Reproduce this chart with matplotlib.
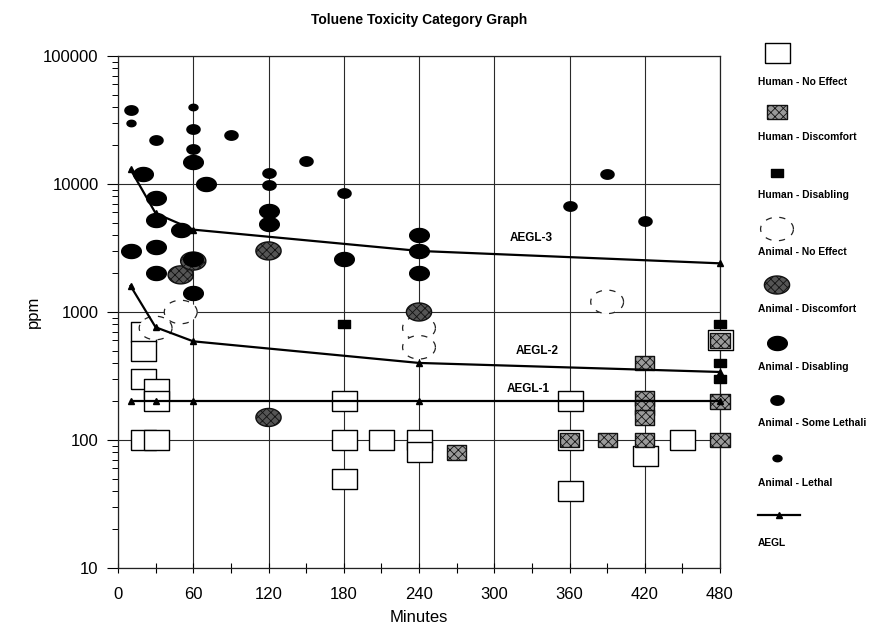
import numpy as np
import matplotlib
matplotlib.use("Agg")
import matplotlib.pyplot as plt
from matplotlib.ticker import FixedLocator, FuncFormatter, LogLocator, NullFormatter, MultipleLocator

plt.rcParams['font.family'] = ['Liberation Sans', 'DejaVu Sans']
plt.rcParams['hatch.linewidth'] = 0.6

# ---- data (minutes, ppm) ----
hum_noeff_min = [20, 20, 20, 30, 30, 20, 30, 180, 180, 180, 210, 240, 240, 360, 360, 360, 420, 450, 480]
hum_noeff_ppm = [700, 500, 300, 250, 200, 100, 100, 200, 100, 50, 100, 100, 80, 200, 100, 40, 75, 100, 600]

hum_disc_min = [270, 360, 390, 420, 420, 420, 420, 420, 480, 480, 480]
hum_disc_ppm = [80, 100, 100, 400, 210, 180, 150, 100, 200, 100, 600]

hum_disab_min = [180, 480, 480, 480]
hum_disab_ppm = [800, 800, 400, 300]

ani_noeff_min = [50, 30, 240, 240, 390]
ani_noeff_ppm = [1000, 750, 750, 530, 1200]

ani_disc_min = [50, 60, 120, 240, 120]
ani_disc_ppm = [1950, 2500, 3000, 1000, 150]

ani_disab_min = [10, 20, 30, 30, 30, 30, 50, 60, 60, 60, 70, 120, 120, 180, 240, 240, 240]
ani_disab_ppm = [3000, 12000, 7800, 5200, 3200, 2000, 4400, 14800, 2600, 1400, 10000, 6200, 4900, 2600, 4000, 3000, 2000]

ani_some_min = [10, 30, 60, 60, 90, 150, 120, 120, 180, 360, 390, 420]
ani_some_ppm = [38000, 22000, 26700, 18700, 24000, 15000, 12200, 9800, 8500, 6750, 12000, 5150]

ani_lethal_min = [10, 60]
ani_lethal_ppm = [30000, 40000]

aegl_min = [10, 30, 60, 240, 480]
aegl3 = [13000, 5900, 4400, 3000, 2400]
aegl2 = [1600, 760, 590, 400, 340]
aegl1 = [200, 200, 200, 200, 200]

x_ticks = [0, 60, 120, 180, 240, 300, 360, 420, 480]
y_ticks = [10, 100, 1000, 10000, 100000]

# marker shapes
rect = [(-1.3, -1), (1.3, -1), (1.3, 1), (-1.3, 1), (-1.3, -1)]
t = np.linspace(0, 2 * np.pi, 60)
ellipse = list(zip(1.4 * np.cos(t), np.sin(t)))

styles = {
    'Human - No Effect': dict(marker=rect, s=324, facecolor='white', edgecolor='black', linewidths=1.0),
    'Human - Discomfort': dict(marker=rect, s=190, facecolor='#9a9a9a', edgecolor='#111111', linewidths=1.0, hatch='xxxx'),
    'Human - Disabling': dict(marker=rect, s=64, facecolor='black', edgecolor='black'),
    'Animal - No Effect': dict(marker=ellipse, s=560, facecolor='white', edgecolor='#222222', linewidths=0.9, linestyles=(0, (5, 6))),
    'Animal - Discomfort': dict(marker=ellipse, s=330, facecolor='#555555', edgecolor='#111111', linewidths=1.0, hatch='xxxx'),
    'Animal - Disabling': dict(marker=ellipse, s=200, facecolor='black', edgecolor='black'),
    'Animal - Some Lethali': dict(marker=ellipse, s=90, facecolor='black', edgecolor='black'),
    'Animal - Lethal': dict(marker=ellipse, s=42, facecolor='black', edgecolor='black'),
}
series = [
    ('Human - No Effect', hum_noeff_min, hum_noeff_ppm),
    ('Human - Discomfort', hum_disc_min, hum_disc_ppm),
    ('Human - Disabling', hum_disab_min, hum_disab_ppm),
    ('Animal - No Effect', ani_noeff_min, ani_noeff_ppm),
    ('Animal - Discomfort', ani_disc_min, ani_disc_ppm),
    ('Animal - Disabling', ani_disab_min, ani_disab_ppm),
    ('Animal - Some Lethali', ani_some_min, ani_some_ppm),
    ('Animal - Lethal', ani_lethal_min, ani_lethal_ppm),
]

W, H = 874, 626
fig = plt.figure(figsize=(W / 100, H / 100), dpi=100)
ax = fig.add_axes([118 / W, 1 - 568 / H, (720 - 118) / W, (568 - 56) / H])

ax.set_yscale('log')
ax.set_xlim(0, 480)
ax.set_ylim(10, 100000)
ax.xaxis.set_major_locator(FixedLocator(x_ticks))
ax.xaxis.set_minor_locator(MultipleLocator(30))
ax.yaxis.set_major_locator(FixedLocator(y_ticks))
ax.yaxis.set_minor_locator(LogLocator(base=10, subs=np.arange(2, 10)))
ax.yaxis.set_major_formatter(FuncFormatter(lambda v, p: '%d' % v))
ax.yaxis.set_minor_formatter(NullFormatter())
ax.grid(True, which='major', color='#2a2a2a', lw=0.8)
ax.set_axisbelow(True)
ax.tick_params(axis='x', which='both', direction='inout', length=7, width=0.8, pad=10, labelsize=12)
ax.tick_params(axis='y', which='major', direction='out', length=8, width=0.8, pad=6, labelsize=12)
ax.tick_params(axis='y', which='minor', direction='out', length=4, width=0.7)
for sp in ax.spines.values():
    sp.set_color('#222222')
    sp.set_linewidth(0.9)

for name, xs, ys in series:
    ax.scatter(xs, ys, zorder=3, clip_on=False, **styles[name])

for vals in (aegl3, aegl2, aegl1):
    ax.plot(aegl_min, vals, color='black', lw=1.6, marker='^', ms=5, zorder=5, clip_on=False)

ax.text(312, 3800, 'AEGL-3', fontsize=8.5, fontweight='bold', va='center')
ax.text(317, 495, 'AEGL-2', fontsize=8.5, fontweight='bold', va='center')
ax.text(310, 250, 'AEGL-1', fontsize=8.5, fontweight='bold', va='center')

fig.text(419 / W, 1 - 20 / H, 'Toluene Toxicity Category Graph', ha='center', va='center',
         fontsize=10, fontweight='bold')
fig.text(419 / W, 1 - 617 / H, 'Minutes', ha='center', va='center', fontsize=12)
fig.text(33 / W, 1 - 312 / H, 'ppm', ha='center', va='center', rotation=90, fontsize=12)

# legend drawn by hand: marker above its label
lax = fig.add_axes([0, 0, 1, 1])
lax.set_xlim(0, W)
lax.set_ylim(H, 0)
lax.axis('off')
mark_y = [53, 112, 173, 229, 285, 343, 400, 458]
text_y = [82, 137, 195, 252, 309, 367, 423, 483]
for (name, _, _), my, ty in zip(series, mark_y, text_y):
    lax.scatter([777], [my], **styles[name])
    lax.text(758, ty, name, fontsize=7.4, fontweight='bold', va='center')
lax.plot([758, 800], [515, 515], color='black', lw=1.6)
lax.plot([779], [515], color='black', marker='^', ms=5)
lax.text(758, 543, 'AEGL', fontsize=7.4, fontweight='bold', va='center')

fig.savefig('out.png', dpi=100)
